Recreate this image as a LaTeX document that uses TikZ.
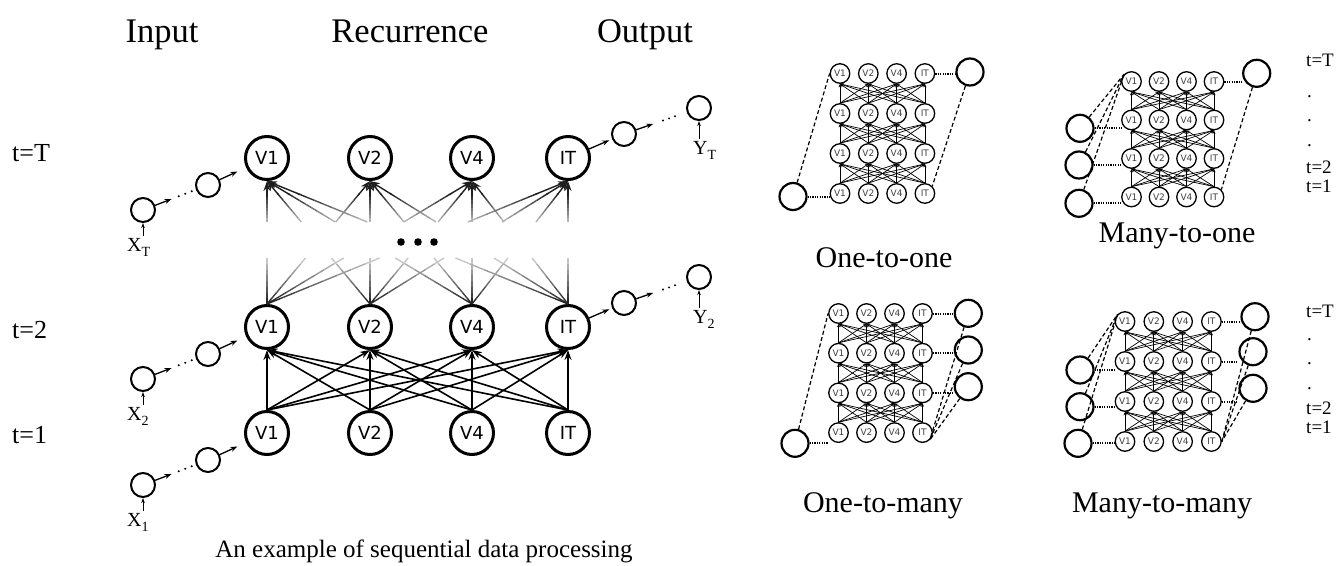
\documentclass[tikz,border=0pt]{standalone}
\usepackage{fontspec}
\setmainfont{Liberation Serif}
\newfontfamily\dvs{DejaVu Sans}
\usetikzlibrary{arrows.meta,calc}
\newcommand\fs[1]{\fontsize{#1}{#1}\selectfont}
\newcommand\lowsub[1]{\raisebox{-5pt}{\fs{14}#1}}
\tikzset{
  big/.style={circle, draw, line width=3pt, minimum size=43pt, inner sep=0pt, font=\dvs\fs{18}},
  chain/.style={circle, draw, line width=2pt, minimum size=24pt, inner sep=0pt},
  small/.style={circle, draw, line width=1.3pt, minimum size=19.5pt, inner sep=0pt, font=\dvs\fs{9}, text=black!75},
  io/.style={circle, draw, line width=2.2pt, minimum size=27pt, inner sep=0pt},
  link/.style={line width=1.6pt, -{Stealth[length=10pt,width=7pt]}},
  sarrow/.style={line width=1.3pt, -{Stealth[length=7pt,width=5pt]}},
  tarrow/.style={line width=1pt, -{Stealth[length=5pt,width=3.5pt]}},
  plink/.style={line width=0.7pt, -{Stealth[length=3.5pt,width=3pt]}},
  dotl/.style={line width=2pt, dash pattern=on 1.2pt off 1.2pt},
  dashl/.style={line width=1.2pt, dash pattern=on 4pt off 2.5pt},
  title/.style={font=\fs{34.5}, inner sep=0pt, anchor=base},
  tlab/.style={font=\fs{26}, inner sep=0pt, anchor=west},
  rlab/.style={font=\fs{19}, inner sep=0pt, anchor=west},
  lab/.style={font=\fs{20}, inner sep=0pt},
  plab/.style={font=\fs{30}, inner sep=0pt, anchor=base},
}
\newcommand\gridpanel[5]{%
  \foreach \r in {1,...,4}{
    \foreach \c/\lab in {1/V1,2/V2,3/V4,4/IT}{
      \node[small] (#1-\r-\c) at ({#2+(\c-1)*#4},{#3+(\r-1)*#5}) {\lab};
    }}
  \foreach \r/\q in {2/1,3/2,4/3}{
    \foreach \c in {1,...,4}{\foreach \d in {1,...,4}{
      \draw[plink] (#1-\r-\c.north) -- (#1-\q-\d.south);
    }}}
}
\begin{document}
\begin{tikzpicture}[x=1pt,y=-1pt]
\useasboundingbox (0,0) rectangle (1338,565);
% titles
\node[title] (tin) at (162,42) {Input};
\node[title] (trec) at (410,42) {Recurrence};
\node[title] (tout) at (645,42) {Output};
\node[tlab] (lT) at (12,153) {t=T};
\node[tlab] (l2) at (12,330) {t=2};
\node[tlab] (l1) at (12,435) {t=1};
% main nodes
\foreach \n/\x/\lab in {1/267/V1,2/370/V2,3/472/V4,4/568/IT}{
  \node[big] (T\n) at (\x,158) {\lab};
  \node[big] (S\n) at (\x,327) {\lab};
  \node[big] (F\n) at (\x,433) {\lab};
}
% t=1 -> t=2
\foreach \i in {1,...,4}{\foreach \j in {1,...,4}{
  \draw[link] (F\i.north) -- (S\j.south);
}}
% faded t=2 -> t=T
\foreach \i in {1,...,4}{\foreach \j in {1,...,4}{
  \foreach \k in {0,...,7}{
    \pgfmathsetmacro\ta{0.374*\k/8}
    \pgfmathsetmacro\tb{0.374*(\k+1)/8}
    \pgfmathtruncatemacro\gl{85-9*\k}
    \draw[line width=1.4pt, black!\gl] ($(S\i.north)!\ta!(T\j.south)$) -- ($(S\i.north)!\tb!(T\j.south)$);
    \pgfmathsetmacro\ua{0.667+0.233*\k/8}
    \pgfmathsetmacro\ub{0.667+0.233*(\k+1)/8}
    \pgfmathtruncatemacro\gu{30+8*\k}
    \draw[line width=1.4pt, black!\gu] ($(S\i.north)!\ua!(T\j.south)$) -- ($(S\i.north)!\ub!(T\j.south)$);
  }
  \draw[link, line width=1.4pt, black!88] ($(S\i.north)!0.89!(T\j.south)$) -- (T\j.south);
}}
\fill (401,242) circle (3.8);
\fill (418,242) circle (3.8);
\fill (434,242) circle (3.8);
% input chains
\foreach \r/\y/\s in {T/158/T,S/327/2,F/433/1}{
  \node[chain] (xa\r) at (143,{\y+52}) {};
  \node[chain] (xb\r) at (208,{\y+27}) {};
  \draw[sarrow] (xa\r) -- ($(xa\r)!0.44!(xb\r)$);
  \foreach \f in {0.55,0.65,0.75}{\fill ($(xa\r)!\f!(xb\r)$) circle (1.1);}
  \draw[sarrow] (xb\r) -- ($(xb\r)!0.5!(\r1)$);
  \node[lab, anchor=base west] (xl\r) at (127,{\y+93}) {X\lowsub{\s}};
  \coordinate (xs\r) at ($(xl\r.north -| xa\r)+(0,-2)$);
  \draw[tarrow] (xs\r) -- (xa\r.south);
}
% output chains
\foreach \r/\y/\s in {T/158/T,S/327/2}{
  \node[chain] (oa\r) at (624,{\y-24}) {};
  \node[chain] (ob\r) at (699,{\y-50}) {};
  \draw[sarrow, shorten >=3pt] (\r4) -- (oa\r);
  \draw[sarrow] (oa\r) -- ($(oa\r)!0.39!(ob\r)$);
  \foreach \f in {0.52,0.6,0.68}{\fill ($(oa\r)!\f!(ob\r)$) circle (1.1);}
  \node[lab, anchor=base west] (yl\r) at (693,{\y-4}) {Y\lowsub{\s}};
  \coordinate (ys\r) at ($(yl\r.north -| ob\r)+(0,-2)$);
  \draw[tarrow] (ys\r) -- (ob\r.south);
}
\node[font=\fs{25}, inner sep=0pt] (cap) at (424,551) {An example of sequential data processing};

% ---------- panels ----------
\gridpanel{a}{840}{73.5}{28.3}{40}
\gridpanel{b}{1131.5}{81.5}{27.5}{38.5}
\gridpanel{c}{838.5}{313.5}{28}{39.7}
\gridpanel{d}{1125}{321.5}{28.8}{40}

% panel 1: one-to-one
\node[io] (aL) at (793,196.5) {};
\node[io] (aR) at (970,72) {};
\draw[dotl] (aL.east) -- (aL.east -| a-4-1.west);
\draw[dashl] (aL) -- (a-1-1.west);
\draw[dotl] (a-1-4.east) -- (a-1-4.east -| aR.west);
\draw[dashl] (aR) -- (a-4-4.north east);
\node[plab] (pa) at (884,267) {One-to-one};

% panel 2: many-to-one
\node[io] (bL1) at (1080,128.3) {};
\node[io] (bL2) at (1079,165) {};
\node[io] (bL3) at (1079,203.3) {};
\node[io] (bR) at (1256.7,73.3) {};
\draw[dotl] (bL1.east) -- (bL1.east -| b-2-1.west);
\draw[dotl] (bL2.east) -- (bL2.east -| b-3-1.west);
\draw[dotl] (bL3.east) -- (bL3.east -| b-4-1.west);
\foreach \k in {1,2,3}{\draw[dashl] (bL\k) -- (b-1-1.north west);}
\draw[dotl] (b-1-4.east) -- (b-1-4.east -| bR.west);
\draw[dashl] (bR) -- (b-4-4.north east);
\node[plab] (pb) at (1177,242) {Many-to-one};
\node[rlab] (bt1) at (1306,60) {t=T};
\node[rlab, anchor=base west] (bd1) at (1307,97) {.};
\node[rlab, anchor=base west] (bd2) at (1307,121) {.};
\node[rlab, anchor=base west] (bd3) at (1307,146) {.};
\node[rlab] (bt2) at (1306,167) {t=2};
\node[rlab] (bt3) at (1306,186) {t=1};

% panel 3: one-to-many
\node[io] (cL) at (795,443.3) {};
\node[io] (cR1) at (968.3,313.3) {};
\node[io] (cR2) at (968.3,350) {};
\node[io] (cR3) at (968.3,386.7) {};
\draw[dotl] (cL.east) -- (cL.east -| c-4-1.west);
\draw[dashl] (cL) -- (c-1-1.west);
\draw[dotl] (c-1-4.east) -- (c-1-4.east -| cR1.west);
\draw[dotl] (c-2-4.east) -- (c-2-4.east -| cR2.west);
\draw[dotl] (c-3-4.east) -- (c-3-4.east -| cR3.west);
\foreach \k in {1,2,3}{\draw[dashl] (cR\k) -- (c-4-4.south east);}
\node[plab] (pc) at (883,512) {One-to-many};

% panel 4: many-to-many
\node[io] (dL1) at (1080,370) {};
\node[io] (dL2) at (1080,406.7) {};
\node[io] (dL3) at (1078,443.3) {};
\node[io] (dR1) at (1255,316.7) {};
\node[io] (dR2) at (1253,351.7) {};
\node[io] (dR3) at (1253,388.3) {};
\draw[dotl] (dL1.east) -- (dL1.east -| d-2-1.west);
\draw[dotl] (dL2.east) -- (dL2.east -| d-3-1.west);
\draw[dotl] (dL3.east) -- (dL3.east -| d-4-1.west);
\foreach \k in {1,2,3}{\draw[dashl] (dL\k) -- (d-1-1.north west);}
\draw[dotl] (d-1-4.east) -- (d-1-4.east -| dR1.west);
\draw[dotl] (d-2-4.east) -- (d-2-4.east -| dR2.west);
\draw[dotl] (d-3-4.east) -- (d-3-4.east -| dR3.west);
\foreach \k in {1,2,3}{\draw[dashl] (dR\k) -- (d-4-4.east);}
\node[plab] (pd) at (1162,512) {Many-to-many};
\node[rlab] (dt1) at (1306,311.7) {t=T};
\node[rlab, anchor=base west] (dd1) at (1307,340) {.};
\node[rlab, anchor=base west] (dd2) at (1307,364) {.};
\node[rlab, anchor=base west] (dd3) at (1307,389) {.};
\node[rlab] (dt2) at (1306,408.3) {t=2};
\node[rlab] (dt3) at (1306,427) {t=1};
\end{tikzpicture}
\end{document}
